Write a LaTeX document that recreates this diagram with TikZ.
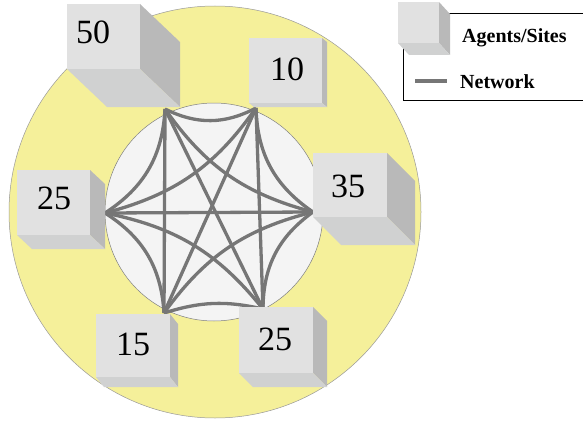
\documentclass[tikz,border=0pt]{standalone}
\usepackage{fontspec}
\setmainfont{Liberation Serif}
\definecolor{ringyellow}{RGB}{245,240,154}
\definecolor{innergray}{RGB}{244,244,244}
\definecolor{netgray}{RGB}{118,118,118}
\definecolor{cubefrontc}{RGB}{225,225,225}
\definecolor{cubesidec}{RGB}{185,185,185}
\definecolor{cubebottomc}{RGB}{208,209,209}
\newcommand{\cubeshape}[6]{%
  \fill[cubesidec] (#3,#2) -- ++(#5,#6) -- ({#3+#5},{#4+#6}) -- (#3,#4) -- cycle;
  \fill[cubebottomc] (#1,#4) -- (#3,#4) -- ++(#5,#6) -- ({#1+#5},{#4+#6}) -- cycle;
  \fill[cubefrontc] (#1,#2) rectangle (#3,#4);
}
\begin{document}
\begin{tikzpicture}[x=1pt,y=-1pt,
  net/.style={draw=netgray,line width=3.3pt},
  adj/.style={net,bend right=27},
  skip/.style={net,bend right=20},
  numlabel/.style={inner sep=0pt,font=\fontsize{34}{34}\selectfont},
  legendtext/.style={inner sep=0pt,anchor=base west,font=\fontsize{20}{20}\selectfont\bfseries}]
\useasboundingbox (0,0) rectangle (583,420);
% rings
\draw[fill=ringyellow,draw=gray!80,line width=0.5pt] (215,212) circle (206);
\draw[fill=innergray,draw=gray,line width=0.5pt] (214,212) circle (109);
% site coordinates
\coordinate (A) at (165,109);
\coordinate (B) at (256,108);
\coordinate (C) at (313,212);
\coordinate (F) at (263,309);
\coordinate (E) at (164,313);
\coordinate (D) at (105,213);
% network: adjacent pairs
\draw[adj] (A) to (B);
\draw[adj] (B) to (C);
\draw[adj] (C) to (F);
\draw[net,bend right=15] (F) to (E);
\draw[adj] (E) to (D);
\draw[adj] (D) to (A);
% network: skip-one pairs
\draw[skip] (A) to (C);
\draw[skip] (C) to (E);
\draw[skip] (F) to (D);
\draw[skip] (D) to (B);
\draw[net] (B) -- (F);
\draw[net] (E) -- (A);
% network: opposite pairs
\draw[net] (A) -- (F);
\draw[net] (B) -- (E);
\draw[net] (D) -- (C);
% cubes
\cubeshape{67}{4}{140}{69}{40}{38}
\node[numlabel] (n50) at (93,32) {50};
\cubeshape{249}{38}{322}{103}{5}{4}
\node[numlabel] (n10) at (287,69) {10};
\cubeshape{313}{153}{387}{217}{28}{28}
\node[numlabel] (n35) at (348,186) {35};
\cubeshape{17}{170}{90}{235}{15}{14}
\node[numlabel] (n25a) at (54,198) {25};
\cubeshape{96}{314}{170}{377}{8}{10}
\node[numlabel] (n15) at (133,344) {15};
\cubeshape{239}{307}{313}{373}{14}{14}
\node[numlabel] (n25b) at (275,339) {25};
% legend
\draw[black,line width=0.8pt] (584,13) -- (403,13) -- (403,100) -- (584,100);
\cubeshape{398}{2}{439}{43}{11}{12}
\node[legendtext] (lg1) at (462,42) {Agents/Sites};
\coordinate (l1) at (415,81);
\coordinate (l2) at (447,81);
\draw[net] (l1) -- (l2);
\node[legendtext] (lg2) at (460,88) {Network};
\end{tikzpicture}
\end{document}
